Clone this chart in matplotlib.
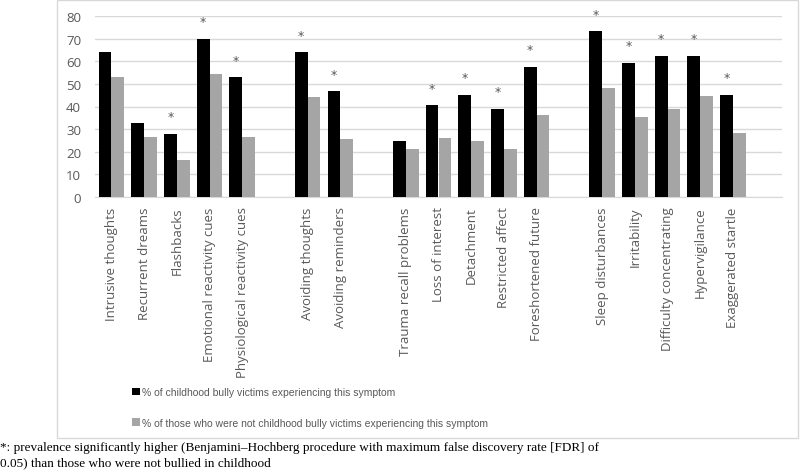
import numpy as np
import matplotlib
matplotlib.use("Agg")
import matplotlib.pyplot as plt
from matplotlib.patches import Rectangle, Patch

categories = ["Intrusive thoughts", "Recurrent dreams", "Flashbacks",
              "Emotional reactivity cues", "Physiological reactivity cues",
              "Avoiding thoughts", "Avoiding reminders",
              "Trauma recall problems", "Loss of interest", "Detachment",
              "Restricted affect", "Foreshortened future",
              "Sleep disturbances", "Irritability", "Difficulty concentrating",
              "Hypervigilance", "Exaggerated startle"]
group_sizes = [5, 2, 5, 5]
victims = [64.0, 32.5, 27.9, 70.1, 52.9,
           64.0, 46.7,
           24.8, 40.5, 45.2, 38.9, 57.6,
           73.3, 59.3, 62.4, 62.4, 45.2]
non_victims = [52.9, 26.5, 16.3, 54.4, 26.3,
               44.2, 25.6,
               21.2, 25.9, 24.6, 21.0, 36.1,
               48.1, 35.2, 38.8, 44.5, 28.1]
significant = [False, False, True, True, True,
               True, True,
               False, True, True, True, True,
               True, True, True, True, True]
yticks = [0, 10, 20, 30, 40, 50, 60, 70, 80]
legend_labels = ["% of childhood bully victims experiencing this symptom",
                 "% of those who were not childhood bully victims experiencing this symptom"]
footnote = ("*: prevalence significantly higher (Benjamini\u2013Hochberg procedure with maximum false discovery rate [FDR] of\n"
            "0.05) than those who were not bullied in childhood")

# positions with one empty slot between groups
pos = []
p = 0
for g in group_sizes:
    for _ in range(g):
        pos.append(p)
        p += 1
    p += 1
pos = np.array(pos, dtype=float)
nslots = p - 1

W, H = 800, 477
fig = plt.figure(figsize=(8, 4.77), dpi=100)
fig.patches.append(Rectangle((57 / W, 1 - 439 / H), (798 - 57) / W, 438 / H,
                             transform=fig.transFigure, fill=False,
                             edgecolor="#d9d9d9", linewidth=1))

ax = fig.add_axes([95 / W, 1 - 197.7 / H, (782 - 95) / W, (197.7 - 17.3) / H])
bw = 0.39
black, gray = "#000000", "#a5a5a5"
ax.bar(pos - bw / 2, victims, width=bw, color=black, zorder=3)
ax.bar(pos + bw / 2, non_victims, width=bw, color=gray, zorder=3)
for x, v, s in zip(pos, victims, significant):
    if s:
        ax.annotate("*", (x - bw / 2, v), xytext=(0, 12.5), textcoords="offset points",
                    ha="center", va="center", fontsize=9, color="#595959",
                    family="DejaVu Sans")

ax.set_xlim(-0.5, nslots + 0.5)
ax.set_ylim(0, 80)
ax.set_yticks(yticks)
ax.yaxis.grid(True, color="#d9d9d9", linewidth=1, zorder=0)
ax.set_axisbelow(True)
for sp in ["top", "right", "left"]:
    ax.spines[sp].set_visible(False)
ax.spines["bottom"].set_color("#d9d9d9")
ax.set_xticks(pos)
ax.set_xticklabels(categories, rotation=90, family="Open Sans", fontsize=9.5,
                   color="#595959")
ax.tick_params(axis="x", length=0, pad=7)
ax.tick_params(axis="y", length=0, pad=10, labelcolor="#595959", labelsize=9.5)
for lbl in ax.get_yticklabels():
    lbl.set_family("Open Sans")

handles = [Patch(facecolor=black), Patch(facecolor=gray)]
fig.legend(handles, legend_labels, loc="upper left",
           bbox_to_anchor=(132 / W, 1 - 388 / H), frameon=False,
           handlelength=0.75, handleheight=0.75, handletextpad=0.25,
           labelspacing=2.0, prop={"family": "Liberation Sans", "size": 7.5},
           labelcolor="#595959", borderaxespad=0, borderpad=0)

fig.text(0.0, 1 - 442 / H, footnote, ha="left", va="top",
         family="Liberation Serif", fontsize=9.5, linespacing=1.4, color="black")

fig.savefig("out.png", dpi=100)
